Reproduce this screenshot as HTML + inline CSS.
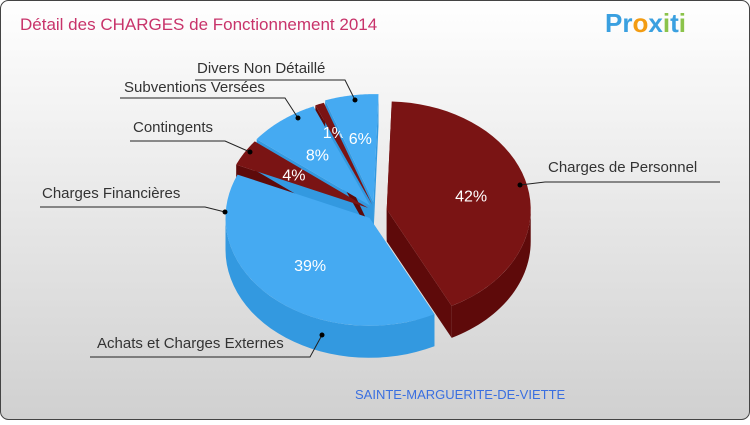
<!DOCTYPE html>
<html><head><meta charset="utf-8"><style>
body{margin:0;background:#fff;}
#c{position:relative;width:750px;height:420px;font-family:"Liberation Sans",sans-serif;}
</style></head><body>
<div id="c">
<svg id="s" width="750" height="420" xmlns="http://www.w3.org/2000/svg">
<defs><linearGradient id="bg" x1="0" y1="0" x2="0" y2="1"><stop offset="0" stop-color="#ffffff"/><stop offset="1" stop-color="#d0d0d0"/></linearGradient></defs>
<rect x="0.5" y="0.5" width="749" height="419" rx="8" fill="url(#bg)" stroke="#444" stroke-width="1"/>
<text x="20" y="30" font-size="17" fill="#c8336a" font-family="Liberation Sans">Détail des CHARGES de Fonctionnement 2014</text>
<text x="605" y="32" font-size="26" font-weight="bold" font-family="Liberation Sans"><tspan fill="#3aa0e0">Pr</tspan><tspan fill="#f39c12">o</tspan><tspan fill="#3aa0e0">x</tspan><tspan fill="#8bc34a">i</tspan><tspan fill="#3aa0e0">t</tspan><tspan fill="#8bc34a">i</tspan></text>
<text x="355" y="399" font-size="13" fill="#3a6fe0" font-family="Liberation Sans">SAINTE-MARGUERITE-DE-VIETTE</text>
<g id="pie"></g>
<g id="labels"></g>
</svg>
</div>
<script>
const categories=["Charges de Personnel","Achats et Charges Externes","Charges Financières","Contingents","Subventions Versées","Divers Non Détaillé"];
const values=[42,39,4,8,1,6];
const seriesColors=["red","blue","red","blue","red","blue"];
const explodes=[12,8,8,8,8,10];
const NS="http://www.w3.org/2000/svg";
const cx=375,cy=212,rx=144,ry=108,depth=32,startDeg=-88;
const topCol={red:"#7a1414",blue:"#45aaf2"},sideCol={red:"#5e0a0a",blue:"#3399e0"};
const total=values.reduce((a,b)=>a+b,0);
const pie=document.getElementById('pie'),lab=document.getElementById('labels');
function P(ox,oy,a,dy){return [ox+rx*Math.cos(a),oy+ry*Math.sin(a)+(dy||0)];}
let ang=startDeg*Math.PI/180;const slices=[];
values.forEach((v,i)=>{const a1=ang,a2=ang+v/total*2*Math.PI;ang=a2;const m=(a1+a2)/2;
slices.push({i,a1,a2,m,ox:cx+explodes[i]*Math.cos(m),oy:cy+explodes[i]*Math.sin(m)});});
function mk(tag,attrs){const e=document.createElementNS(NS,tag);for(const k in attrs)e.setAttribute(k,attrs[k]);return e;}
slices.forEach(s=>{const c=seriesColors[s.i];
 [s.a1,s.a2].forEach(an=>{const p=P(s.ox,s.oy,an);
  const e=mk('path',{d:`M${s.ox},${s.oy}L${p[0]},${p[1]}L${p[0]},${p[1]+depth}L${s.ox},${s.oy+depth}Z`,fill:sideCol[c]});
  
  
  pie.appendChild(e);});
});
slices.forEach(s=>{const c=seriesColors[s.i];
 for(let k=-1;k<=1;k++){const lo=Math.max(s.a1,k*2*Math.PI),hi=Math.min(s.a2,k*2*Math.PI+Math.PI);
  if(hi<=lo)continue;let d='';const n=30;
  for(let j=0;j<=n;j++){const p=P(s.ox,s.oy,lo+(hi-lo)*j/n);d+=(j?'L':'M')+p[0]+','+p[1];}
  for(let j=n;j>=0;j--){const p=P(s.ox,s.oy,lo+(hi-lo)*j/n,depth);d+='L'+p[0]+','+p[1];}
  const e=mk('path',{d:d+'Z',fill:sideCol[c]});
  
  
  pie.appendChild(e);}
});
slices.forEach(s=>{const c=seriesColors[s.i];let d=`M${s.ox},${s.oy}`;const n=40;
 for(let j=0;j<=n;j++){const p=P(s.ox,s.oy,s.a1+(s.a2-s.a1)*j/n);d+='L'+p[0]+','+p[1];}
 const e=mk('path',{d:d+'Z',fill:topCol[c]});
 
 
 pie.appendChild(e);
 const r=values[s.i]<3?0.72:0.6;
 const t=mk('text',{x:s.ox+rx*r*Math.cos(s.m),y:s.oy+ry*r*Math.sin(s.m)+6,'font-size':16,fill:'#fff','text-anchor':'middle','font-family':'Liberation Sans'});
 t.textContent=values[s.i]+'%';
 
 
 pie.appendChild(t);
});
const callouts=[
 [548,172,"start","720,182 545,182 520,185"],
 [97,348,"start","90,357 310,357 322,335"],
 [42,198,"start","40,207 205,207 225,212"],
 [133,132,"start","130,141 225,141 250,152"],
 [124,92,"start","120,98 285,98 298,118"],
 [197,73,"start","195,80 345,80 355,100"]];
callouts.forEach((c,i)=>{const pts=c[3].split(' ');const last=pts[pts.length-1].split(',').map(Number);
 const l=mk('polyline',{points:c[3],fill:'none',stroke:'#222','stroke-width':1});
 
 
 lab.appendChild(l);
 const ar=mk('circle',{cx:last[0],cy:last[1],r:2.5,fill:'#000'});
 
 
 lab.appendChild(ar);
 const t=mk('text',{x:c[0],y:c[1],'font-size':15,fill:'#333','font-family':'Liberation Sans','text-anchor':c[2]});
 t.textContent=categories[i];
 
 
 lab.appendChild(t);
});
</script>
</body></html>
